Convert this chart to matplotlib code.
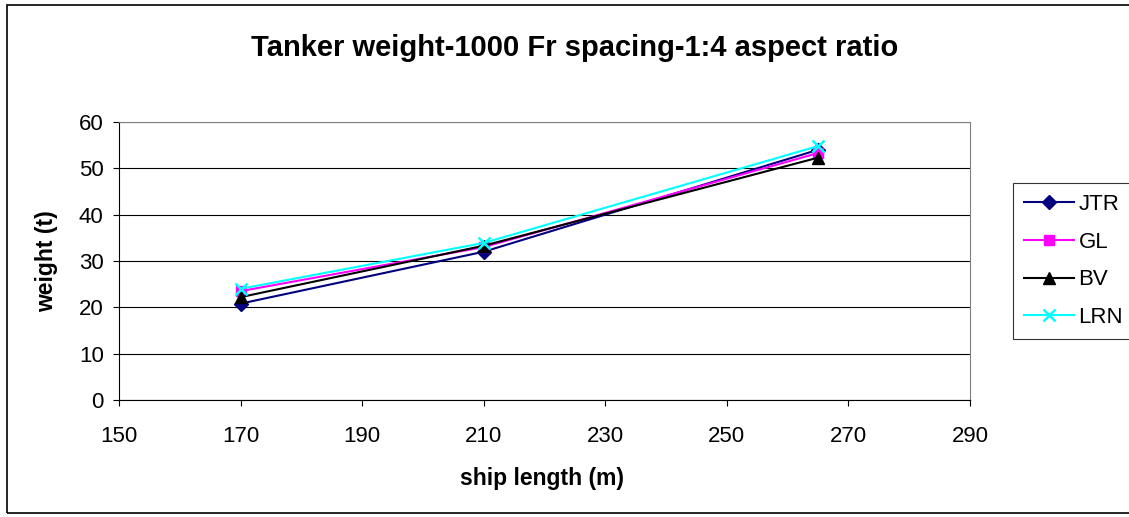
import numpy as np
import matplotlib
matplotlib.use("Agg")
from matplotlib import pyplot as plt
from matplotlib.patches import Rectangle

plt.rcParams['font.family'] = ['Liberation Sans', 'DejaVu Sans']

W, H = 1129, 517

# ship length (m)
length = [170, 210, 265]

# weights (t)
jtr = [20.8, 32.0, 54.0]
gl = [23.5, 33.0, 53.3]
bv = [22.2, 33.3, 52.3]
lrn = [24.0, 33.9, 54.8]

fig = plt.figure(figsize=(W / 100, H / 100), dpi=100)
ax = fig.add_axes([119 / W, 1 - 400 / H, (970 - 119) / W, (400 - 122) / H])

ax.plot(length, jtr, color='#000080', marker='D', markersize=7, lw=1.5, label='JTR')
ax.plot(length, gl, color='#FF00FF', marker='s', markersize=7, lw=1.5, label='GL')
ax.plot(length, bv, color='black', marker='^', markersize=8, lw=1.5, label='BV')
ax.plot(length, lrn, color='#00FFFF', marker='x', markersize=9, mew=1.8, lw=1.5, label='LRN')

ax.set_xlim(150, 290)
ax.set_ylim(0, 60)
ax.set_xticks(np.arange(150, 291, 20))
ax.set_yticks(np.arange(0, 61, 10))
ax.tick_params(labelsize=16, direction='out', length=4)
ax.tick_params(axis='x', pad=15)
ax.tick_params(axis='y', pad=7)
ax.yaxis.grid(True, color='black', lw=0.8)
ax.set_axisbelow(True)
for s in ax.spines.values():
    s.set_color('#808080')
ax.spines['left'].set_color('black')
ax.spines['bottom'].set_color('black')

fig.text(542 / W, 1 - 479 / H, 'ship length (m)', ha='center', va='center',
         fontsize=16.5, fontweight='bold')
fig.text(47 / W, 1 - 261 / H, 'weight (t)', ha='center', va='center', rotation=90,
         fontsize=16.5, fontweight='bold')
fig.text(575 / W, 1 - 48 / H, 'Tanker weight-1000 Fr spacing-1:4 aspect ratio', ha='center',
         va='center', fontsize=21, fontweight='bold')

leg = fig.legend(loc='upper left', bbox_to_anchor=(1013 / W, 1 - 183 / H),
                 fontsize=16, frameon=True, fancybox=False, edgecolor='black',
                 handlelength=2.25, borderaxespad=0, borderpad=0.5,
                 labelspacing=0.75, handletextpad=0.2)
leg.get_frame().set_linewidth(0.8)

# outer chart border
fig.patches.append(Rectangle((7 / W, 4 / H), 1.01, 1 - 9 / H, transform=fig.transFigure,
                             fill=False, edgecolor='black', lw=1.2))

fig.savefig('out.png', dpi=100)
